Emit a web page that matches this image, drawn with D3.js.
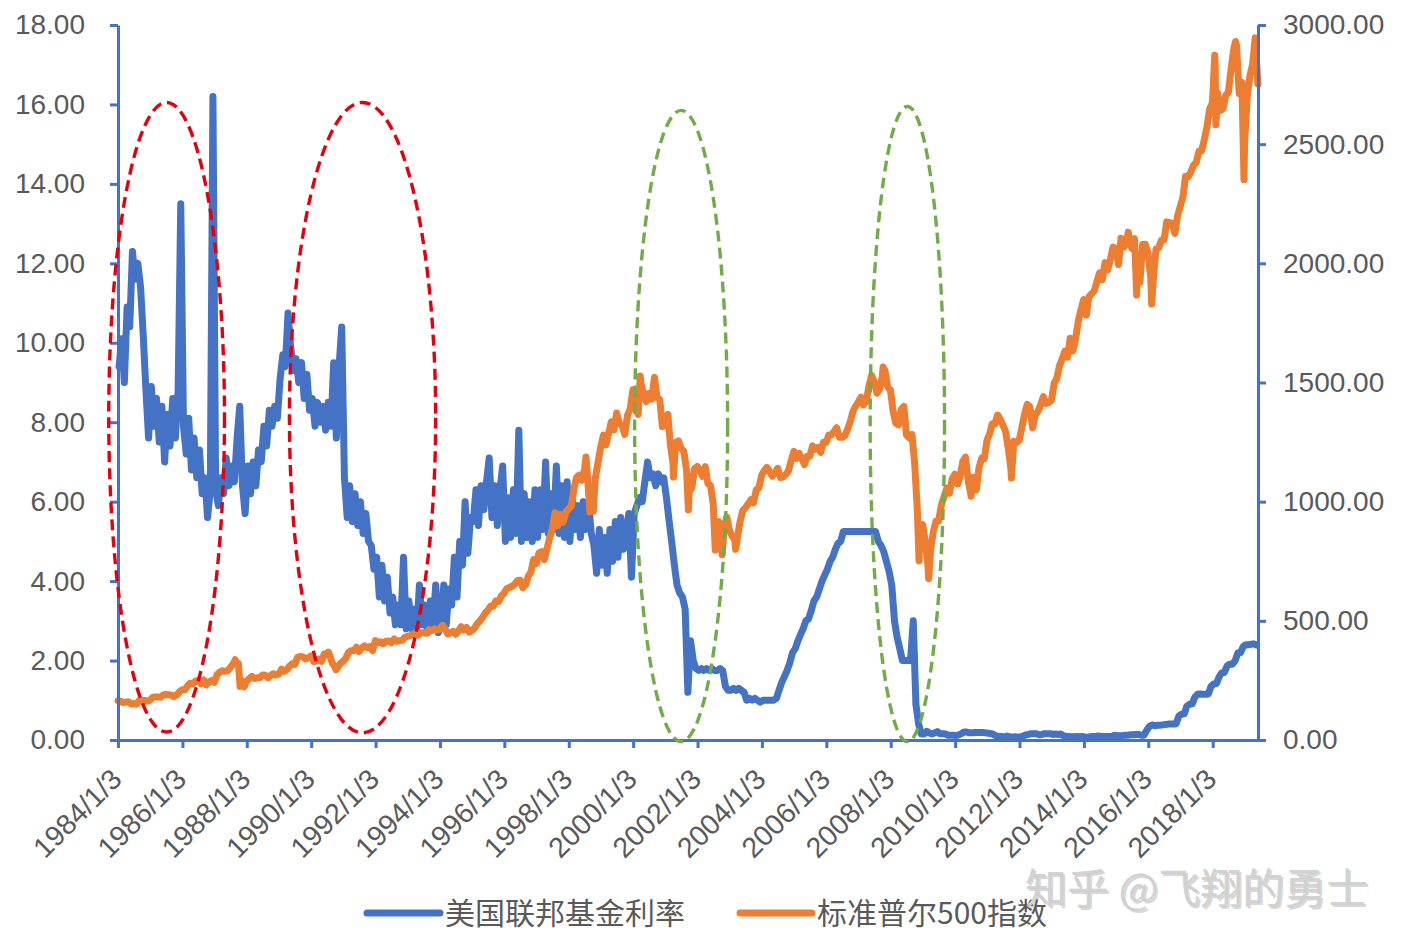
<!DOCTYPE html>
<html>
<head>
<meta charset="utf-8">
<script src="https://cdn.jsdelivr.net/npm/d3@7/dist/d3.min.js"></script>
<style>
  html, body { margin: 0; padding: 0; background: #ffffff; }
  svg { display: block; }
</style>
</head>
<body>
<svg id="chart" width="1404" height="950"></svg>
<script>
// ---------------- DATA ----------------
const xTickLabels = ["1984/1/3","1986/1/3","1988/1/3","1990/1/3","1992/1/3","1994/1/3","1996/1/3",
  "1998/1/3","2000/1/3","2002/1/3","2004/1/3","2006/1/3","2008/1/3","2010/1/3","2012/1/3",
  "2014/1/3","2016/1/3","2018/1/3"];
const leftTicks = [0, 2, 4, 6, 8, 10, 12, 14, 16, 18];
const rightTicks = [0, 500, 1000, 1500, 2000, 2500, 3000];
const seriesNames = ["美国联邦基金利率", "标准普尔500指数"];

// Federal funds rate, one reading per month starting Jan 1984
const fedStartYear = 1984;
const fedFundsMonthly = [
  // 1984
  9.4, 10.1, 9.0, 10.9, 10.4, 12.3, 11.6, 12.0, 11.4, 10.2, 8.8, 7.6,
  // 1985
  8.9, 7.9, 8.6, 7.5, 8.4, 7.0, 8.2, 7.4, 8.6, 7.6, 8.8, 13.5,
  // 1986
  7.9, 7.2, 8.1, 6.8, 7.6, 6.6, 7.3, 6.2, 6.6, 5.6, 6.3, 16.2,
  // 1987
  6.3, 5.9, 6.6, 6.2, 7.1, 6.4, 6.9, 6.5, 7.6, 8.4, 6.4, 5.7,
  // 1988
  6.9, 6.2, 7.0, 6.4, 7.3, 7.0, 7.9, 7.4, 8.3, 7.9, 8.4, 8.1,
  // 1989
  9.1, 9.7, 9.4, 10.75, 9.9, 9.3, 9.6, 9.0, 9.5, 8.6, 9.2, 8.3,
  // 1990
  8.6, 7.9, 8.5, 8.0, 8.4, 7.8, 8.5, 7.9, 9.5, 7.6, 9.4, 10.4,
  // 1991
  6.6, 5.6, 6.4, 5.5, 6.2, 5.4, 6.0, 5.2, 5.7, 5.0, 4.9, 4.3,
  // 1992
  4.6, 3.6, 4.4, 3.5, 4.1, 3.2, 3.6, 2.9, 3.4, 2.9, 4.6, 2.8,
  // 1993
  3.5, 2.8, 3.3, 2.8, 3.9, 2.9, 3.4, 2.7, 3.5, 2.8, 3.9, 2.7,
  // 1994
  3.0, 3.9, 2.9, 3.8, 3.4, 4.6, 3.6, 5.0, 4.4, 6.0, 4.7, 5.6,
  // 1995
  5.5, 6.3, 5.4, 6.4, 5.8, 6.5, 7.1, 5.6, 6.4, 5.4, 6.3, 6.9,
  // 1996
  5.0, 6.1, 5.1, 6.3, 5.2, 7.8, 5.0, 6.2, 5.1, 6.0, 5.0, 6.3,
  // 1997
  5.1, 6.3, 5.3, 7.0, 5.2, 6.2, 5.3, 6.9, 5.2, 6.4, 5.1, 6.5,
  // 1998
  5.0, 6.0, 5.3, 5.9, 5.1, 6.0, 5.3, 6.0, 5.2, 4.9, 4.2, 5.3,
  // 1999
  4.4, 5.1, 4.2, 5.3, 4.5, 5.5, 4.6, 5.6, 4.8, 5.2, 5.7, 4.1,
  // 2000
  5.7, 5.9, 6.1, 6.0, 6.5, 7.0, 6.6, 6.7, 6.4, 6.7, 6.5, 6.6,
  // 2001
  6.1, 5.5, 5.0, 4.4, 3.9, 3.7, 3.6, 3.3, 1.2, 2.5, 2.0, 1.8,
  // 2002
  1.75, 1.8, 1.75, 1.8, 1.75, 1.8, 1.75, 1.75, 1.8, 1.75, 1.35, 1.25,
  // 2003
  1.25, 1.3, 1.25, 1.3, 1.25, 1.2, 1.0, 1.05, 1.0, 1.05, 1.0, 0.95,
  // 2004
  1.0, 1.0, 1.0, 1.0, 1.0, 1.05, 1.25, 1.45, 1.6, 1.75, 1.95, 2.2,
  // 2005
  2.3, 2.5, 2.65, 2.8, 3.0, 3.05, 3.25, 3.5, 3.6, 3.8, 4.0, 4.15,
  // 2006
  4.3, 4.5, 4.6, 4.8, 4.95, 5.0, 5.25, 5.25, 5.25, 5.25, 5.25, 5.25,
  // 2007
  5.25, 5.25, 5.25, 5.25, 5.25, 5.25, 5.25, 5.0, 4.9, 4.75, 4.5, 4.25,
  // 2008
  3.9, 3.0, 2.6, 2.3, 2.0, 2.0, 2.0, 2.0, 3.0, 0.9, 0.4, 0.15,
  // 2009
  0.15, 0.22, 0.18, 0.15, 0.18, 0.21, 0.16, 0.16, 0.15, 0.12, 0.12, 0.12,
  // 2010
  0.11, 0.13, 0.16, 0.20, 0.20, 0.18, 0.18, 0.19, 0.19, 0.19, 0.19, 0.18,
  // 2011
  0.17, 0.16, 0.14, 0.10, 0.09, 0.09, 0.07, 0.10, 0.08, 0.07, 0.08, 0.07,
  // 2012
  0.08, 0.10, 0.13, 0.14, 0.16, 0.16, 0.16, 0.13, 0.14, 0.16, 0.16, 0.16,
  // 2013
  0.14, 0.15, 0.14, 0.15, 0.11, 0.09, 0.09, 0.08, 0.08, 0.09, 0.08, 0.09,
  // 2014
  0.07, 0.07, 0.08, 0.09, 0.09, 0.10, 0.09, 0.09, 0.09, 0.09, 0.09, 0.12,
  // 2015
  0.11, 0.11, 0.11, 0.12, 0.12, 0.13, 0.13, 0.14, 0.14, 0.12, 0.12, 0.24,
  // 2016
  0.34, 0.38, 0.36, 0.37, 0.37, 0.38, 0.39, 0.40, 0.40, 0.40, 0.41, 0.60,
  // 2017
  0.65, 0.66, 0.85, 0.90, 0.91, 1.08, 1.15, 1.16, 1.15, 1.15, 1.16, 1.35,
  // 2018
  1.41, 1.42, 1.58, 1.69, 1.70, 1.86, 1.91, 1.91, 2.0, 2.19, 2.20, 2.35,
  // 2019
  2.40, 2.40, 2.41, 2.42, 2.39
];

// S&P 500, month-end closes starting Jan 1984
const spStartYear = 1984;
const spMonthEnd = [
  // 1984
  163, 157, 159, 160, 151, 153, 150, 166, 166, 166, 163, 167,
  // 1985
  179, 181, 180, 179, 189, 191, 190, 188, 182, 189, 202, 211,
  // 1986
  211, 226, 238, 235, 247, 250, 236, 252, 231, 243, 249, 242,
  // 1987
  274, 284, 291, 288, 290, 304, 318, 329, 321, 251, 230, 247,
  // 1988
  257, 267, 258, 261, 262, 273, 272, 261, 271, 278, 273, 277,
  // 1989
  297, 288, 294, 309, 320, 317, 346, 351, 349, 340, 345, 353,
  // 1990
  329, 331, 339, 330, 361, 358, 356, 322, 306, 304, 322, 330,
  // 1991
  343, 367, 375, 375, 389, 371, 387, 395, 387, 392, 375, 417,
  // 1992
  408, 412, 403, 414, 415, 408, 424, 414, 417, 418, 431, 435,
  // 1993
  438, 443, 451, 440, 450, 450, 448, 463, 458, 467, 461, 466,
  // 1994
  481, 467, 445, 450, 456, 444, 458, 475, 462, 472, 453, 459,
  // 1995
  470, 487, 500, 514, 533, 544, 562, 561, 584, 581, 605, 615,
  // 1996
  636, 640, 645, 654, 669, 670, 639, 651, 687, 705, 757, 740,
  // 1997
  786, 790, 757, 801, 848, 885, 954, 899, 947, 914, 955, 970,
  // 1998
  980, 1049, 1101, 1111, 1090, 1133, 1120, 957, 1017, 1098, 1163, 1229,
  // 1999
  1279, 1238, 1286, 1335, 1301, 1372, 1328, 1320, 1282, 1362, 1388, 1469,
  // 2000
  1394, 1366, 1498, 1452, 1420, 1454, 1430, 1517, 1436, 1429, 1315, 1320,
  // 2001
  1366, 1240, 1160, 1249, 1255, 1224, 1211, 1133, 1040, 1059, 1139, 1148,
  // 2002
  1130, 1106, 1147, 1076, 1067, 989, 911, 916, 815, 885, 936, 880,
  // 2003
  855, 841, 848, 916, 963, 974, 990, 1008, 995, 1050, 1058, 1111,
  // 2004
  1131, 1144, 1126, 1107, 1120, 1140, 1101, 1104, 1114, 1130, 1173, 1211,
  // 2005
  1181, 1203, 1180, 1156, 1191, 1191, 1234, 1220, 1228, 1207, 1249, 1248,
  // 2006
  1280, 1280, 1294, 1310, 1270, 1270, 1276, 1303, 1335, 1377, 1400, 1418,
  // 2007
  1438, 1406, 1420, 1482, 1530, 1503, 1455, 1473, 1526, 1549, 1481, 1468,
  // 2008
  1378, 1330, 1322, 1385, 1400, 1280, 1267, 1282, 1166, 968, 896, 903,
  // 2009
  826, 735, 798, 873, 919, 919, 987, 1021, 1057, 1036, 1096, 1115,
  // 2010
  1074, 1104, 1169, 1187, 1089, 1031, 1102, 1049, 1141, 1183, 1181, 1258,
  // 2011
  1286, 1327, 1326, 1364, 1345, 1321, 1292, 1219, 1131, 1253, 1247, 1258,
  // 2012
  1312, 1366, 1408, 1398, 1310, 1362, 1379, 1407, 1441, 1412, 1416, 1426,
  // 2013
  1498, 1515, 1569, 1598, 1631, 1606, 1686, 1633, 1682, 1757, 1806, 1848,
  // 2014
  1783, 1859, 1872, 1884, 1924, 1960, 1931, 2003, 1972, 2018, 2068, 2059,
  // 2015
  1995, 2105, 2068, 2086, 2107, 2063, 2104, 1972, 1920, 2079, 2080, 2044,
  // 2016
  1940, 1932, 2060, 2065, 2097, 2099, 2174, 2171, 2168, 2126, 2199, 2239,
  // 2017
  2279, 2364, 2363, 2384, 2412, 2423, 2470, 2472, 2519, 2575, 2648, 2674,
  // 2018
  2824, 2714, 2641, 2648, 2705, 2718, 2816, 2902, 2914, 2712, 2760, 2507,
  // 2019
  2704, 2784, 2834, 2946, 2752
];

// S&P 500 intra-month highs / lows visible in the picture
const spExtremes = [
  ["1984-01-03", 165], ["1987-08-25", 337], ["1987-10-19", 225], ["1987-12-04", 223],
  ["1990-07-16", 369], ["1990-10-11", 295], ["1998-07-17", 1187], ["1998-10-08", 960],
  ["2000-03-24", 1527], ["2000-09-01", 1521], ["2001-04-04", 1103], ["2001-09-21", 966],
  ["2002-07-23", 797], ["2002-10-09", 777], ["2003-03-11", 800], ["2007-10-09", 1565],
  ["2008-11-20", 752], ["2009-03-09", 677], ["2010-07-02", 1023], ["2011-04-29", 1364],
  ["2011-10-03", 1099], ["2015-05-21", 2131], ["2015-08-25", 1867], ["2016-02-11", 1829],
  ["2018-01-26", 2873], ["2018-02-08", 2581], ["2018-09-20", 2931], ["2018-12-24", 2351]
];

// Dashed ellipses drawn on the chart: [from date, to date, top value, bottom value]
const highlightRed = [
  ["1983-09-20", "1987-04-25", 16.05, 0.2],
  ["1989-05-01", "1993-11-15", 16.05, 0.18]
];
const highlightGreen = [
  ["2000-01-20", "2002-12-10", 15.85, -0.04],
  ["2007-05-15", "2009-09-05", 15.95, -0.04]
];

// ---------------- CHART ----------------
const W = 1404, H = 950;
const plot = { left: 118, right: 1258, top: 25, bottom: 740 };
const axisColor = "#4472C4";
const blue = "#4472C4", orange = "#ED7D31";
const textColor = "#595959";
const numFont = "'Liberation Sans', Arial, sans-serif";
const cjkFont = "'Noto Sans CJK SC', 'Noto Sans', sans-serif";

const parse = d3.timeParse("%Y-%m-%d");
const parseTick = d3.timeParse("%Y/%m/%d");

const fedData = fedFundsMonthly.map((v, i) => ({ date: new Date(fedStartYear, i, 15), v }));
let spData = spMonthEnd.map((v, i) => ({ date: new Date(spStartYear, i + 1, 0), v }));
spData = spData.concat(spExtremes.map(([d, v]) => ({ date: parse(d), v })));
spData.sort((a, b) => a.date - b.date);

const x = d3.scaleTime()
  .domain([parseTick("1984/1/3"), new Date(2019, 5, 1)])
  .range([plot.left, plot.right]);
const yL = d3.scaleLinear().domain([0, 18]).range([plot.bottom, plot.top]);
const yR = d3.scaleLinear().domain([0, 3000]).range([plot.bottom, plot.top]);

const svg = d3.select("#chart");
svg.append("rect").attr("width", W).attr("height", H).attr("fill", "#fff");

// Lines
const lineL = d3.line().x(d => x(d.date)).y(d => yL(d.v));
const lineR = d3.line().x(d => x(d.date)).y(d => yR(d.v));

svg.append("path").datum(fedData)
  .attr("d", lineL).attr("fill", "none").attr("stroke", blue)
  .attr("stroke-width", 7).attr("stroke-linejoin", "round").attr("stroke-linecap", "round");

svg.append("path").datum(spData)
  .attr("d", lineR).attr("fill", "none").attr("stroke", orange)
  .attr("stroke-width", 7).attr("stroke-linejoin", "round").attr("stroke-linecap", "round");

// Axes
function styleAxis(g) {
  g.select(".domain").attr("stroke", axisColor).attr("stroke-width", 3);
  g.selectAll(".tick line").attr("stroke", axisColor).attr("stroke-width", 3);
  g.selectAll(".tick text").attr("fill", textColor).attr("font-family", numFont).attr("font-size", 28);
}

const gL = svg.append("g").attr("transform", `translate(${plot.left},0)`)
  .call(d3.axisLeft(yL).tickValues(leftTicks).tickFormat(d3.format(".2f"))
    .tickSize(8).tickSizeOuter(0).tickPadding(25));
styleAxis(gL);

const gR = svg.append("g").attr("transform", `translate(${plot.right},0)`)
  .call(d3.axisRight(yR).tickValues(rightTicks).tickFormat(d3.format(".2f"))
    .tickSize(8).tickSizeOuter(0).tickPadding(17));
styleAxis(gR);

const tickDates = xTickLabels.map(s => parseTick(s));
const gB = svg.append("g").attr("transform", `translate(0,${plot.bottom})`)
  .call(d3.axisBottom(x).tickValues(tickDates)
    .tickFormat((d, i) => xTickLabels[i]).tickSize(8).tickSizeOuter(0));
styleAxis(gB);
gB.selectAll(".tick text")
  .attr("font-size", 28.5)
  .attr("text-anchor", "end")
  .attr("x", 0).attr("y", 0).attr("dy", null)
  .attr("transform", "translate(5,41) rotate(-45)");

// Dashed ellipses
function drawEllipses(list, color) {
  svg.selectAll(null).data(list).enter().append("ellipse")
    .attr("cx", d => (x(parse(d[0])) + x(parse(d[1]))) / 2)
    .attr("cy", d => (yL(d[2]) + yL(d[3])) / 2)
    .attr("rx", d => (x(parse(d[1])) - x(parse(d[0]))) / 2)
    .attr("ry", d => (yL(d[3]) - yL(d[2])) / 2)
    .attr("fill", "none").attr("stroke", color)
    .attr("stroke-width", 3.4).attr("stroke-dasharray", "11,6");
}
drawEllipses(highlightRed, "#E3000F");
drawEllipses(highlightGreen, "#70AD47");

// Legend
const legendY = 913;
const legendItems = [
  { name: seriesNames[0], color: blue, x1: 367, x2: 440 },
  { name: seriesNames[1], color: orange, x1: 740, x2: 812 }
];
const lg = svg.append("g");
legendItems.forEach(it => {
  lg.append("line").attr("x1", it.x1).attr("x2", it.x2).attr("y1", legendY).attr("y2", legendY)
    .attr("stroke", it.color).attr("stroke-width", 7).attr("stroke-linecap", "round");
  lg.append("text").attr("x", it.x2 + 5).attr("y", legendY).attr("dy", "0.36em")
    .attr("fill", textColor).attr("font-family", cjkFont).attr("font-size", 30)
    .text(it.name);
});

// Watermark
const wm = svg.append("g");
wm.append("text").attr("x", 1027).attr("y", 906)
  .attr("font-family", cjkFont).attr("font-size", 42)
  .attr("fill", "#7f7f7f").attr("opacity", 0.3)
  .text("知乎 @飞翔的勇士");
wm.append("text").attr("x", 1025).attr("y", 904)
  .attr("font-family", cjkFont).attr("font-size", 42)
  .attr("fill", "#cfcfcf").attr("opacity", 0.9)
  .text("知乎 @飞翔的勇士");
</script>
</body>
</html>
